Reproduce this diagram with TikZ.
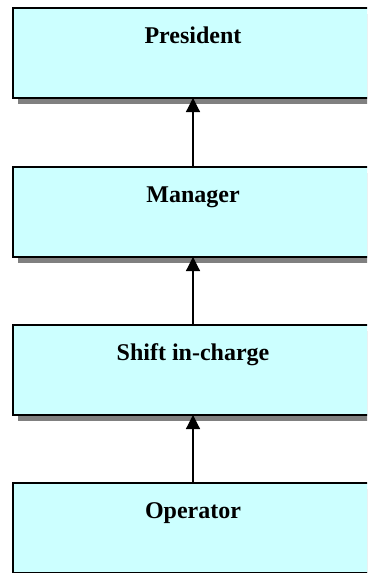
\documentclass[tikz,border=0pt]{standalone}
\usepackage{fontspec}
\setmainfont{Liberation Serif}
\usetikzlibrary{arrows.meta,shadows}
\definecolor{boxcyan}{HTML}{CCFFFF}
\definecolor{shadowgray}{HTML}{808080}
\begin{document}
\begin{tikzpicture}[x=1pt,y=-1pt,
  orgbox/.style={draw=black, line width=1.2pt, fill=boxcyan,
    minimum width=360pt, minimum height=90pt, inner sep=0pt, outer sep=0pt,
    general shadow={shadow xshift=5pt, shadow yshift=-5.5pt, fill=shadowgray}},
  boxtext/.style={font=\fontsize{24}{28}\selectfont\bfseries, anchor=base, inner sep=0pt},
  uparrow/.style={line width=1.2pt, -{Triangle[width=14pt,length=14pt]}}]
\useasboundingbox (0,0) rectangle (367,573);
\clip (0,0) rectangle (367,573);
\node[orgbox] (president) at (193,53) {};
\node[orgbox] (manager) at (193,212) {};
\node[orgbox] (shift) at (193,370) {};
\node[orgbox] (operator) at (193,528) {};
\node[boxtext] (tpresident) at (193,43) {President};
\node[boxtext] (tmanager) at (193,202) {Manager};
\node[boxtext] (tshift) at (193,360) {Shift in-charge};
\node[boxtext] (toperator) at (193,518) {Operator};
\draw[uparrow] (manager.north) -- (president.south);
\draw[uparrow] (shift.north) -- (manager.south);
\draw[uparrow] (operator.north) -- (shift.south);
\end{tikzpicture}
\end{document}
